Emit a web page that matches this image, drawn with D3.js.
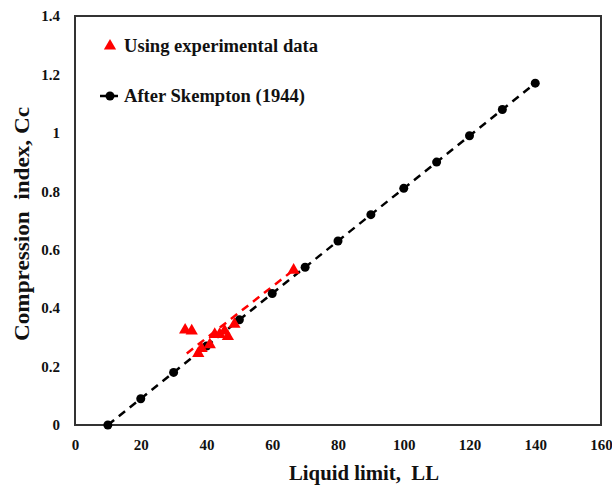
<!DOCTYPE html>
<html><head><meta charset="utf-8">
<script src="https://cdn.jsdelivr.net/npm/d3@7"></script>
<style>body{margin:0;background:#fff}</style>
</head><body>
<svg id="c" width="612" height="487"></svg>
<script>
const skemptonLL = [10,20,30,40,50,60,70,80,90,100,110,120,130,140];
const skemptonCc = [0,0.09,0.18,0.27,0.36,0.45,0.54,0.63,0.72,0.81,0.90,0.99,1.08,1.17];
const expLL = [33.5,35.5,37.5,38.5,41,42.5,44,45.5,46.5,48.5,66.5];
const expCc = [0.325,0.322,0.245,0.262,0.275,0.31,0.31,0.322,0.303,0.345,0.53];
const fitLL = [34,67];
const fitCc = [0.245,0.535];
const xTicks = [0,20,40,60,80,100,120,140,160];
const yTicks = [0,0.2,0.4,0.6,0.8,1,1.2,1.4];
const legendLabels = ["Using experimental data","After Skempton (1944)"];

const svg = d3.select("#c");
const L=75,R=601,T=16,B=425;
const x = d3.scaleLinear().domain([0,160]).range([L,R]);
const y = d3.scaleLinear().domain([0,1.4]).range([B,T]);
const font = "'Liberation Serif','Times New Roman',serif";

svg.append("rect").attr("x",L).attr("y",T).attr("width",R-L).attr("height",B-T)
  .attr("fill","none").attr("stroke","#333").attr("stroke-width",2);

const xa = svg.append("g").attr("transform",`translate(0,${B})`)
  .call(d3.axisBottom(x).tickValues(xTicks).tickFormat(d3.format("d")).tickSize(0).tickPadding(14));
const ya = svg.append("g").attr("transform",`translate(${L},0)`)
  .call(d3.axisLeft(y).tickValues(yTicks).tickFormat(d=>String(d)).tickSize(0).tickPadding(15));
[xa,ya].forEach(a=>{a.select(".domain").remove();
  a.selectAll("text").attr("font-family",font).attr("font-weight","bold").attr("font-size",15).attr("fill","#111");});

const line = d3.line().x(d=>x(d[0])).y(d=>y(d[1]));
const sk = skemptonLL.map((v,i)=>[v,skemptonCc[i]]);
svg.append("path").attr("d",line(sk)).attr("fill","none").attr("stroke","#000")
  .attr("stroke-width",2.5).attr("stroke-dasharray","8,6");
const fit = fitLL.map((v,i)=>[v,fitCc[i]]);
svg.append("path").attr("d",line(fit)).attr("fill","none").attr("stroke","#f00")
  .attr("stroke-width",2.5).attr("stroke-dasharray","8,6");

svg.selectAll(".sk").data(sk).enter().append("circle")
  .attr("cx",d=>x(d[0])).attr("cy",d=>y(d[1])).attr("r",4.5).attr("fill","#000");

const tri = d3.symbol().type(d3.symbolTriangle).size(65);
const ex = expLL.map((v,i)=>[v,expCc[i]]);
svg.selectAll(".ex").data(ex).enter().append("path").attr("d",tri)
  .attr("transform",d=>`translate(${x(d[0])},${y(d[1])})`).attr("fill","#f00");

// legend
svg.append("path").attr("d",tri).attr("transform","translate(110,46)").attr("fill","#f00");
svg.append("line").attr("x1",100).attr("x2",118).attr("y1",96).attr("y2",96).attr("stroke","#000").attr("stroke-width",2.5);
svg.append("circle").attr("cx",110).attr("cy",96).attr("r",4.5).attr("fill","#000");
const legLen=[194,181];
legendLabels.forEach((t,i)=>{
  svg.append("text").attr("x",124).attr("y",i?102:52).text(t)
    .attr("textLength",legLen[i]).attr("lengthAdjust","spacingAndGlyphs")
    .attr("font-family",font).attr("font-weight","bold").attr("font-size",18).attr("fill","#111");
});

svg.append("text").attr("x",289).attr("y",480).text("Liquid limit,\u00a0\u00a0LL")
  .attr("textLength",150).attr("lengthAdjust","spacingAndGlyphs")
  .attr("font-family",font).attr("font-weight","bold").attr("font-size",22).attr("fill","#111");
svg.append("text").attr("transform","translate(29,341) rotate(-90)").text("Compression\u00a0\u00a0index, Cc")
  .attr("textLength",234).attr("lengthAdjust","spacingAndGlyphs")
  .attr("font-family",font).attr("font-weight","bold").attr("font-size",21).attr("fill","#111");
</script>
</body></html>
